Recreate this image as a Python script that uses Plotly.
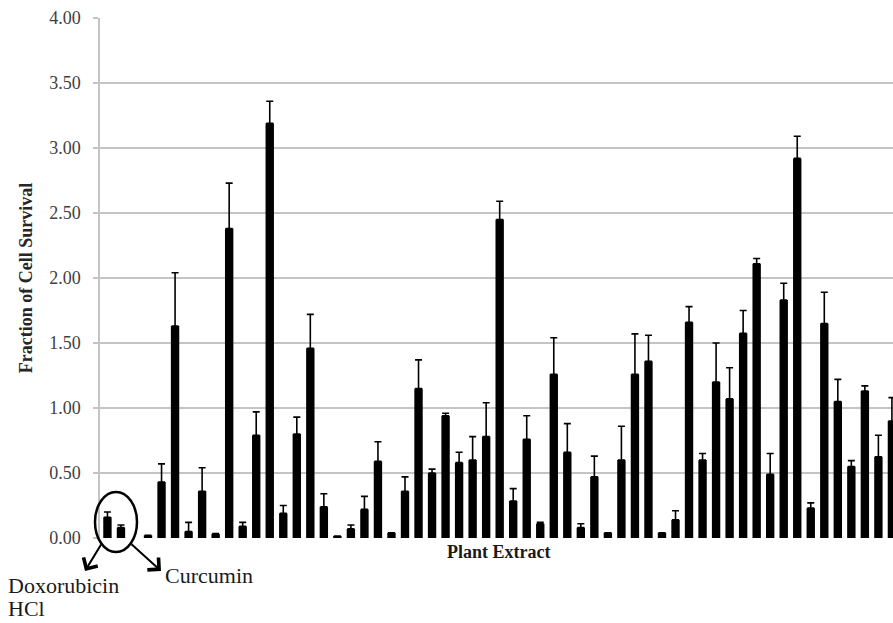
import plotly.graph_objects as go

categories = ["Doxorubicin HCl", "Curcumin", " "] + [f"Extract {i}" for i in range(1, 57)]

values = [0.16, 0.08, None,
          0.02, 0.43, 1.63, 0.05, 0.36, 0.03, 2.38, 0.09, 0.79, 3.19,
          0.19, 0.80, 1.46, 0.24, 0.015, 0.07, 0.22, 0.59, 0.04, 0.36,
          1.15, 0.50, 0.94, 0.58, 0.60, 0.78, 2.45, 0.285, 0.76, 0.11,
          1.26, 0.66, 0.08, 0.47, 0.04, 0.60, 1.26, 1.36, 0.04, 0.14,
          1.66, 0.60, 1.20, 1.07, 1.575, 2.11, 0.49, 1.83, 2.92, 0.23,
          1.65, 1.05, 0.55, 1.13, 0.625, 0.90]

err_tops = [0.20, 0.10, None,
            0.02, 0.57, 2.04, 0.12, 0.54, 0.035, 2.73, 0.12, 0.97, 3.36,
            0.25, 0.93, 1.72, 0.34, 0.015, 0.10, 0.32, 0.74, 0.04, 0.47,
            1.37, 0.53, 0.96, 0.66, 0.78, 1.04, 2.59, 0.38, 0.94, 0.12,
            1.54, 0.88, 0.11, 0.63, 0.04, 0.86, 1.57, 1.56, 0.04, 0.21,
            1.78, 0.65, 1.50, 1.31, 1.75, 2.15, 0.65, 1.96, 3.09, 0.27,
            1.89, 1.22, 0.595, 1.17, 0.79, 1.08]

y_ticks = [0.0, 0.5, 1.0, 1.5, 2.0, 2.5, 3.0, 3.5, 4.0]

err_up = [(t - v) if (v is not None and t is not None) else None
          for v, t in zip(values, err_tops)]

SERIF = "Liberation Serif, Times New Roman, serif"

W, H = 893, 623
L, R, T, B = 100, 0, 18, 623 - 538
pw, ph = W - L - R, H - T - B


def px(xp):
    return (xp - L) / pw


def py(yp):
    return (H - B - yp) / ph


fig = go.Figure()
fig.add_trace(go.Bar(
    x=categories,
    y=values,
    width=0.62,
    marker=dict(color="black", line=dict(width=0)),
    error_y=dict(type="data", array=err_up, arrayminus=[0] * len(err_up),
                 symmetric=False, color="black", thickness=1.6, width=3.5),
    showlegend=False,
))

fig.update_layout(
    width=W, height=H,
    margin=dict(l=L, r=R, t=T, b=B, pad=0),
    paper_bgcolor="white", plot_bgcolor="white",
    font=dict(family=SERIF, color="#404040", size=18),
    xaxis=dict(
        type="category",
        range=[-0.55, 58.08],
        showticklabels=False,
        showgrid=False,
        ticks="",
        showline=False,
        zeroline=False,
        fixedrange=True,
    ),
    yaxis=dict(
        range=[0, 4],
        tickvals=y_ticks,
        tickformat=".2f",
        showgrid=True,
        gridcolor="#c4c4c4",
        gridwidth=1.5,
        ticks="outside",
        ticklen=5,
        tickwidth=1.5,
        tickcolor="#c4c4c4",
        showline=True,
        linecolor="#c4c4c4",
        linewidth=1.5,
        zeroline=False,
        ticklabelstandoff=9,
        tickfont=dict(family=SERIF, size=18, color="#404040"),
        title=dict(text="Fraction of Cell Survival",
                   font=dict(family=SERIF, size=18, color="#262626", weight="bold"),
                   standoff=12),
        automargin=False,
    ),
)

# x-axis title
fig.add_annotation(text="Plant Extract", xref="paper", yref="paper",
                   x=px(498), y=py(552), xanchor="center", yanchor="middle",
                   showarrow=False,
                   font=dict(family=SERIF, size=18, color="#1a1a1a", weight="bold"))

# ellipse around control bars
fig.add_shape(type="circle", xref="paper", yref="paper",
              x0=px(95), x1=px(137), y0=py(492), y1=py(552),
              line=dict(color="black", width=2.5))

# arrows
fig.add_annotation(text="", xref="paper", yref="paper",
                   x=px(85), y=py(571), ax=102 - 85, ay=543 - 571,
                   showarrow=True, arrowhead=4, arrowsize=1.6, arrowwidth=2,
                   arrowcolor="black")
fig.add_annotation(text="", xref="paper", yref="paper",
                   x=px(161), y=py(571), ax=130 - 161, ay=543 - 571,
                   showarrow=True, arrowhead=4, arrowsize=1.6, arrowwidth=2,
                   arrowcolor="black")

# labels
fig.add_annotation(text="Doxorubicin", xref="paper", yref="paper",
                   x=px(6), y=py(585), xanchor="left", yanchor="middle",
                   showarrow=False,
                   font=dict(family=SERIF, size=22, color="#1a1a1a"))
fig.add_annotation(text="HCl", xref="paper", yref="paper",
                   x=px(6), y=py(608), xanchor="left", yanchor="middle",
                   showarrow=False,
                   font=dict(family=SERIF, size=22, color="#1a1a1a"))
fig.add_annotation(text="Curcumin", xref="paper", yref="paper",
                   x=px(163), y=py(575), xanchor="left", yanchor="middle",
                   showarrow=False,
                   font=dict(family=SERIF, size=22, color="#1a1a1a"))

fig.write_html(
    "out.html",
    config={"displayModeBar": False},
    post_script="document.body.style.margin='0';document.body.style.overflow='hidden';",
)
